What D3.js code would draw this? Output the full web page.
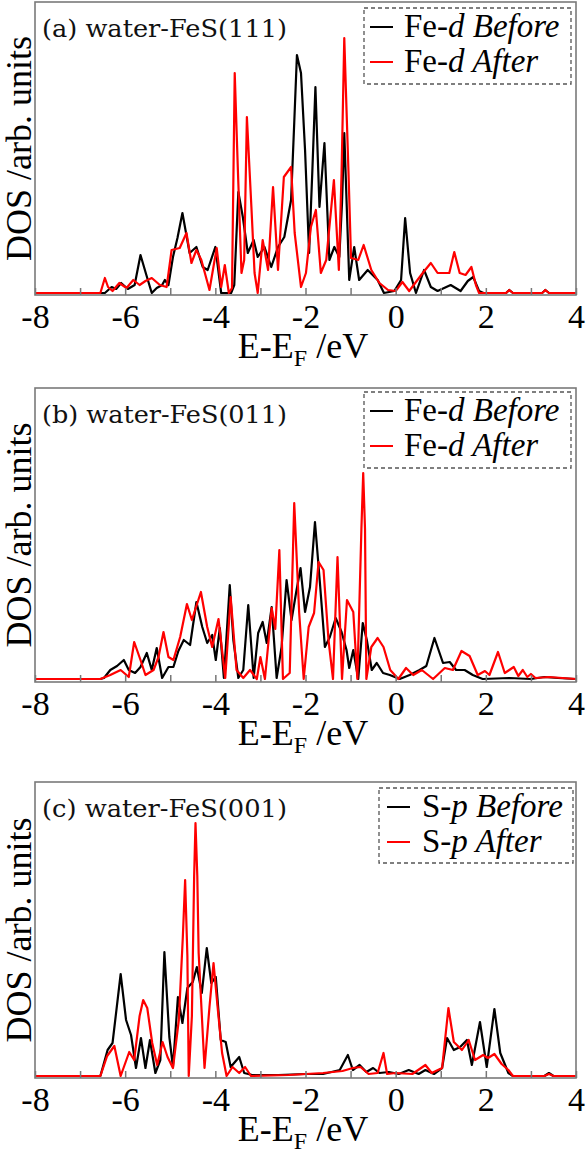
<!DOCTYPE html>
<html><head><meta charset="utf-8">
<script src="https://cdn.jsdelivr.net/npm/d3@7"></script>
<style>html,body{margin:0;padding:0;background:#fff;}</style>
</head><body>
<svg id="chart" width="588" height="1157"></svg>
<script>
// ---------- data (E - E_F in eV, DOS in arb. units) ----------
const xTicks = [-8,-7,-6,-5,-4,-3,-2,-1,0,1,2,3,4];
const panelTitles = ["(a) water-FeS(111)", "(b) water-FeS(011)", "(c) water-FeS(001)"];
const legendOrbitals = ["Fe-", "Fe-", "S-"];
const legendItalic = ["d", "d", "p"];
const seriesNames = ["Before", "After"];

const aBefore = [[-8,0],[-6.45,0],[-6.30,6],[-6.2,4],[-6.09,10],[-5.94,4],[-5.79,8],[-5.66,38],[-5.53,18],[-5.41,0],[-5.30,5],[-5.18,8],[-5.12,13],[-5.04,8],[-4.94,36],[-4.84,55],[-4.73,80],[-4.65,60],[-4.57,40],[-4.42,46],[-4.28,26],[-4.17,23],[-4.0,46],[-3.87,0],[-3.65,0],[-3.58,8],[-3.49,101],[-3.39,76],[-3.28,40],[-3.15,53],[-3.06,36],[-2.91,46],[-2.76,26],[-2.61,46],[-2.47,56],[-2.32,93],[-2.25,170],[-2.19,238],[-2.10,220],[-2.01,143],[-1.92,40],[-1.85,120],[-1.78,206],[-1.69,86],[-1.58,150],[-1.47,33],[-1.36,46],[-1.25,36],[-1.19,90],[-1.14,160],[-1.03,13],[-0.92,46],[-0.81,13],[-0.62,23],[-0.40,13],[-0.26,0],[-0.03,2],[0.12,13],[0.21,75],[0.32,20],[0.45,0],[0.63,23],[0.78,6],[0.93,2],[1.22,8],[1.44,2],[1.6,12],[1.72,16],[1.85,2],[1.95,0],[2.45,0],[2.52,3],[2.6,0],[3.25,0],[3.32,3],[3.4,0],[4,0]];
const aAfter = [[-8,0],[-6.55,0],[-6.45,15],[-6.38,6],[-6.28,2],[-6.13,10],[-5.97,5],[-5.82,13],[-5.68,8],[-5.55,12],[-5.41,15],[-5.23,8],[-5.08,6],[-4.97,43],[-4.79,45],[-4.64,60],[-4.53,30],[-4.42,43],[-4.31,33],[-4.13,3],[-3.97,45],[-3.87,6],[-3.79,28],[-3.70,0],[-3.63,5],[-3.57,220],[-3.50,123],[-3.42,20],[-3.36,33],[-3.30,176],[-3.20,86],[-3.13,20],[-3.06,0],[-2.95,53],[-2.83,23],[-2.72,106],[-2.61,23],[-2.48,116],[-2.32,126],[-2.24,60],[-2.10,6],[-1.99,20],[-1.88,66],[-1.77,83],[-1.66,20],[-1.54,33],[-1.37,113],[-1.26,23],[-1.20,120],[-1.14,255],[-1.05,126],[-0.99,35],[-0.83,33],[-0.71,48],[-0.54,23],[-0.36,10],[-0.17,3],[0.0,2],[0.15,11],[0.30,2],[0.45,11],[0.60,20],[0.78,30],[0.93,20],[1.08,20],[1.19,20],[1.30,41],[1.42,20],[1.55,18],[1.68,26],[1.78,8],[1.85,0],[2.45,0],[2.52,3],[2.6,0],[3.25,0],[3.32,3],[3.4,0],[4,0]];

const bBefore = [[-8,0],[-6.55,0],[-6.47,1],[-6.33,9],[-6.18,13],[-6.03,19],[-5.92,9],[-5.78,6],[-5.66,12],[-5.52,26],[-5.41,9],[-5.30,31],[-5.18,1],[-5.04,12],[-4.93,12],[-4.82,28],[-4.70,39],[-4.56,34],[-4.42,77],[-4.29,52],[-4.18,36],[-4.07,44],[-3.99,19],[-3.90,51],[-3.81,1],[-3.68,94],[-3.60,39],[-3.49,1],[-3.38,9],[-3.27,74],[-3.15,1],[-3.05,46],[-2.95,57],[-2.86,36],[-2.75,72],[-2.64,1],[-2.53,32],[-2.42,99],[-2.31,59],[-2.21,86],[-2.11,111],[-2.01,67],[-1.90,92],[-1.79,157],[-1.68,96],[-1.57,32],[-1.46,42],[-1.33,61],[-1.20,47],[-1.09,29],[-1.03,11],[-0.94,29],[-0.83,0],[-0.73,56],[-0.64,39],[-0.53,9],[-0.42,16],[-0.28,6],[-0.13,4],[0.09,0],[0.31,4],[0.53,9],[0.68,13],[0.86,41],[1.05,16],[1.20,17],[1.34,9],[1.53,9],[1.71,4],[1.93,0],[2.52,1],[3.0,0],[3.3,2],[3.6,1],[4,0]];
const bAfter = [[-8,0],[-6.55,0],[-6.33,4],[-6.10,9],[-5.92,2],[-5.80,37],[-5.66,19],[-5.55,4],[-5.37,9],[-5.26,22],[-5.15,47],[-5.04,22],[-4.93,19],[-4.78,42],[-4.63,75],[-4.52,59],[-4.32,87],[-4.18,52],[-4.07,32],[-3.93,60],[-3.78,1],[-3.66,82],[-3.53,9],[-3.38,1],[-3.23,9],[-3.08,0],[-3.00,22],[-2.90,0],[-2.75,71],[-2.67,50],[-2.58,129],[-2.50,0],[-2.35,6],[-2.25,176],[-2.14,66],[-2.04,0],[-1.93,52],[-1.81,66],[-1.71,117],[-1.60,109],[-1.49,39],[-1.39,0],[-1.29,122],[-1.19,0],[-1.08,79],[-0.94,67],[-0.85,0],[-0.76,150],[-0.72,206],[-0.68,150],[-0.65,0],[-0.54,32],[-0.40,41],[-0.27,32],[-0.12,9],[0.06,0],[0.23,11],[0.39,4],[0.58,9],[0.83,0],[1.09,11],[1.27,9],[1.46,28],[1.64,23],[1.82,4],[1.98,8],[2.08,4],[2.27,27],[2.42,6],[2.52,9],[2.62,12],[2.72,3],[2.82,9],[2.92,2],[3.0,5],[3.1,1],[3.4,2],[4,0]];

const cBefore = [[-8,0],[-6.55,0],[-6.39,26],[-6.28,33],[-6.10,102],[-5.98,56],[-5.87,41],[-5.76,8],[-5.65,38],[-5.55,8],[-5.45,36],[-5.33,3],[-5.22,16],[-5.13,124],[-5.02,39],[-4.94,9],[-4.83,79],[-4.73,53],[-4.62,88],[-4.50,94],[-4.41,109],[-4.30,83],[-4.19,128],[-4.09,93],[-3.99,99],[-3.88,36],[-3.77,34],[-3.66,9],[-3.47,19],[-3.36,3],[-3.18,1],[-2.6,1],[-2.0,2],[-1.61,2],[-1.24,6],[-1.06,21],[-0.95,6],[-0.80,11],[-0.65,4],[-0.50,8],[-0.36,3],[-0.15,4],[0.07,2],[0.29,6],[0.51,2],[0.66,6],[0.85,2],[1.03,8],[1.14,38],[1.29,26],[1.43,29],[1.58,36],[1.69,11],[1.87,54],[2.02,9],[2.19,67],[2.32,23],[2.50,3],[2.6,0],[3.3,0],[3.4,3],[3.5,0],[4,0]];
const cAfter = [[-8,0],[-6.55,0],[-6.40,20],[-6.24,30],[-6.10,0],[-5.91,24],[-5.80,16],[-5.68,60],[-5.60,76],[-5.51,68],[-5.40,33],[-5.29,11],[-5.17,34],[-5.06,19],[-4.94,8],[-4.81,56],[-4.72,140],[-4.67,196],[-4.62,120],[-4.59,0],[-4.52,60],[-4.47,200],[-4.44,253],[-4.40,200],[-4.37,123],[-4.24,8],[-4.13,69],[-4.04,113],[-3.95,69],[-3.85,23],[-3.75,0],[-3.62,9],[-3.47,3],[-3.34,9],[-3.21,0],[-2.37,1],[-1.61,3],[-1.18,5],[-0.95,8],[-0.78,9],[-0.60,2],[-0.40,3],[-0.27,23],[-0.19,2],[0.0,3],[0.37,2],[0.66,11],[0.80,3],[1.03,8],[1.17,68],[1.29,34],[1.47,26],[1.62,36],[1.76,16],[1.94,21],[2.05,18],[2.19,22],[2.35,12],[2.50,6],[2.6,0],[3.3,0],[3.4,2],[3.5,0],[4,0]];

const panelSeries = [[aBefore, aAfter], [bBefore, bAfter], [cBefore, cAfter]];

// ---------- layout ----------
const svg = d3.select("#chart");
const serif = "Liberation Serif";
const xLeft = 35, xRight = 576;
const layout = [
  {top: 2,   axis: 295, zero: 293, legend: {x0: 364, x1: 571, y0: 8,   y1: 84}},
  {top: 388, axis: 682, zero: 679, legend: {x0: 364, x1: 571, y0: 392, y1: 468}},
  {top: 782, axis: 1078, zero: 1076, legend: {x0: 379, x1: 573, y0: 788, y1: 863}}
];
const colors = ["#000000", "#ff0000"];

const x = d3.scaleLinear().domain([-8, 4]).range([xLeft, xRight]);

layout.forEach((L, i) => {
  const g = svg.append("g");
  const y = d3.scaleLinear().domain([0, L.zero - L.top]).range([L.zero, L.top]);

  const clipId = "clip" + i;
  svg.append("clipPath").attr("id", clipId).append("rect")
    .attr("x", xLeft).attr("y", L.top).attr("width", xRight - xLeft).attr("height", L.axis - L.top);

  const line = d3.line().x(d => x(d[0])).y(d => y(d[1]));
  panelSeries[i].forEach((s, k) => {
    g.append("path").datum(s).attr("d", line)
      .attr("clip-path", `url(#${clipId})`)
      .attr("fill", "none").attr("stroke", colors[k])
      .attr("stroke-width", 2.2).attr("stroke-linejoin", "round");
  });

  // axis ticks (inward) and labels
  const ax = d3.axisBottom(x).tickValues(xTicks).tickSizeInner(-7).tickSizeOuter(0).tickPadding(12)
    .tickFormat(d => (d % 2 === 0 ? String(d) : ""));
  const axG = g.append("g").attr("transform", `translate(0,${L.axis})`).call(ax);
  axG.select(".domain").remove();
  axG.selectAll(".tick line").attr("stroke", "#777").attr("stroke-width", 1.5);
  axG.selectAll(".tick text").attr("font-family", serif).attr("font-size", 34).attr("fill", "#000")
    .attr("dy", "0.62em");

  // frame
  g.append("rect").attr("x", xLeft).attr("y", L.top).attr("width", xRight - xLeft).attr("height", L.axis - L.top)
    .attr("fill", "none").attr("stroke", "#7a7a7a").attr("stroke-width", 1.6);

  // panel title
  g.append("text").attr("x", 42).attr("y", L.top + 35)
    .attr("font-family", "DejaVu Serif").attr("font-size", 24)
    .attr("textLength", 245).attr("lengthAdjust", "spacingAndGlyphs")
    .attr("fill", "#111").text(panelTitles[i]);

  // legend
  const lg = L.legend;
  g.append("rect").attr("x", lg.x0).attr("y", lg.y0).attr("width", lg.x1 - lg.x0).attr("height", lg.y1 - lg.y0)
    .attr("fill", "#fff").attr("stroke", "#555").attr("stroke-width", 1.3).attr("stroke-dasharray", "4,3");
  const lx = i === 2 ? lg.x0 + 8 : lg.x0 + 6;
  seriesNames.forEach((nm, k) => {
    const ly = lg.y0 + 19 + k * 35;
    g.append("line").attr("x1", lx).attr("x2", lx + 23).attr("y1", ly).attr("y2", ly)
      .attr("stroke", colors[k]).attr("stroke-width", 2);
    const t = g.append("text").attr("x", lx + (i === 2 ? 35 : 34)).attr("y", ly + 10)
      .attr("font-family", serif).attr("font-size", 33).attr("fill", "#000");
    t.append("tspan").text(legendOrbitals[i]);
    t.append("tspan").attr("font-style", "italic").text(legendItalic[i] + " " + nm);
  });

  // x label
  const xl = g.append("text").attr("x", 303).attr("y", L.axis + 63).attr("text-anchor", "middle")
    .attr("font-family", serif).attr("font-size", 36).attr("fill", "#000");
  xl.append("tspan").text("E-E");
  xl.append("tspan").attr("font-size", 24).attr("dy", 8).text("F");
  xl.append("tspan").attr("dy", -8).text(" /eV");

  // y label
  g.append("text").attr("transform", `translate(31,${(L.top + L.axis) / 2}) rotate(-90)`)
    .attr("text-anchor", "middle").attr("font-family", serif).attr("font-size", 36).attr("fill", "#000")
    .text("DOS /arb. units");
});
</script>
</body></html>
